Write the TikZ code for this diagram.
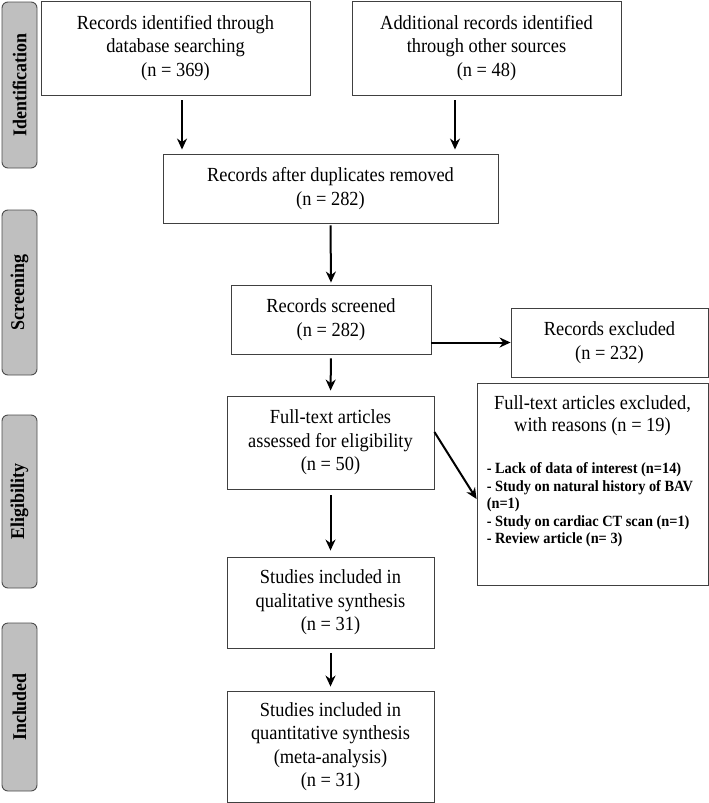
\documentclass[tikz,border=0pt]{standalone}
\usepackage{fontspec}
\setmainfont{Liberation Serif}[FakeStretch=0.92]
\usepackage{tikz}
\usetikzlibrary{shapes.geometric, arrows}
\usetikzlibrary{calc}
\usetikzlibrary{positioning}
\usetikzlibrary{arrows.meta}
\tikzstyle{arrow} = [line width=2pt,-{Stealth[length=11pt,width=10pt]}]
\tikzstyle{box} = [draw=black!75, line width=0.9pt, rectangle, align=center, inner sep=0pt, font=\fontsize{20}{23.5}\selectfont]
\tikzstyle{phase} = [draw=black!70, line width=0.9pt, fill=black!25, rounded corners=6pt, rectangle, minimum width=35pt, inner sep=0pt, font=\bfseries\fontsize{19.5}{22}\selectfont]

\begin{document}
\begin{tikzpicture}[x=1pt,y=-1pt,>=stealth]
\useasboundingbox (0,0) rectangle (709,803);

% Phase labels
\node[phase, minimum height=166pt] (ident) at (19.5,85) {\rotatebox{90}{Identification}};
\node[phase, minimum height=165pt] (screen) at (19.5,292.5) {\rotatebox{90}{Screening}};
\node[phase, minimum height=173pt] (elig) at (19.5,501.5) {\rotatebox{90}{Eligibility}};
\node[phase, minimum height=168pt] (incl) at (19.5,707) {\rotatebox{90}{Included}};

% Boxes
\node[box, minimum width=269pt, minimum height=94pt] (db) at (175.5,48) {Records identified through\\database searching\\(n = 369)};
\node[box, minimum width=269pt, minimum height=94pt] (other) at (486.5,48) {Additional records identified\\through other sources\\(n = 48)};
\node[box, minimum width=335pt, minimum height=69pt] (dup) at (330.5,188.5) {Records after duplicates removed\\(n = 282)};
\node[box, minimum width=200pt, minimum height=69pt] (screened) at (331,319.5) {Records screened\\(n = 282)};
\node[box, minimum width=197pt, minimum height=69pt] (excl) at (609.5,342.5) {Records excluded\\(n = 232)};
\node[box, minimum width=231pt, minimum height=202pt] (ftexcl) at (592.5,484) {};
\node[anchor=north, align=center, inner sep=0pt, font=\fontsize{20}{22}\selectfont] (ftexcltitle) at ([yshift=-13pt]ftexcl.north) {Full-text articles excluded,\\with reasons (n = 19)};
\node[anchor=north west, align=left, inner sep=0pt, font=\bfseries\fontsize{15.6}{17.5}\selectfont] (ftexcllist) at ([xshift=10pt,yshift=-80pt]ftexcl.north west) {- Lack of data of interest (n=14)\\- Study on natural history of BAV\\(n=1)\\- Study on cardiac CT scan (n=1)\\- Review article (n= 3)};
\node[box, minimum width=207pt, minimum height=93pt] (assessed) at (330.5,442.5) {Full-text articles\\assessed for eligibility\\(n = 50)};
\node[box, minimum width=207pt, minimum height=91pt] (qual) at (330.5,602.5) {Studies included in\\qualitative synthesis\\(n = 31)};
\node[box, minimum width=207pt, minimum height=111pt] (quant) at (330.5,746.5) {Studies included in\\quantitative synthesis\\(meta-analysis)\\(n = 31)};

% Edges
\draw[arrow, shorten <=5pt, shorten >=4pt] ([xshift=6.5pt]db.south) -- ([xshift=6.5pt]db.south |- dup.north);
\draw[arrow, shorten <=5pt, shorten >=4pt] ([xshift=-31.5pt]other.south) -- ([xshift=-31.5pt]other.south |- dup.north);
\draw[arrow, shorten <=2pt, shorten >=2pt] (dup.south) -- (screened.north);
\draw[arrow, shorten <=4pt, shorten >=5pt] (screened.south) -- (assessed.north);
\draw[arrow] (screened.east |- excl.west) -- (excl.west);
\draw[arrow] ([yshift=10.5pt]assessed.east) -- ([yshift=-15pt]ftexcl.west);
\draw[arrow, shorten <=6pt, shorten >=6pt] (assessed.south) -- (qual.north);
\draw[arrow, shorten <=5pt, shorten >=4pt] (qual.south) -- (quant.north);

\end{tikzpicture}
\end{document}
